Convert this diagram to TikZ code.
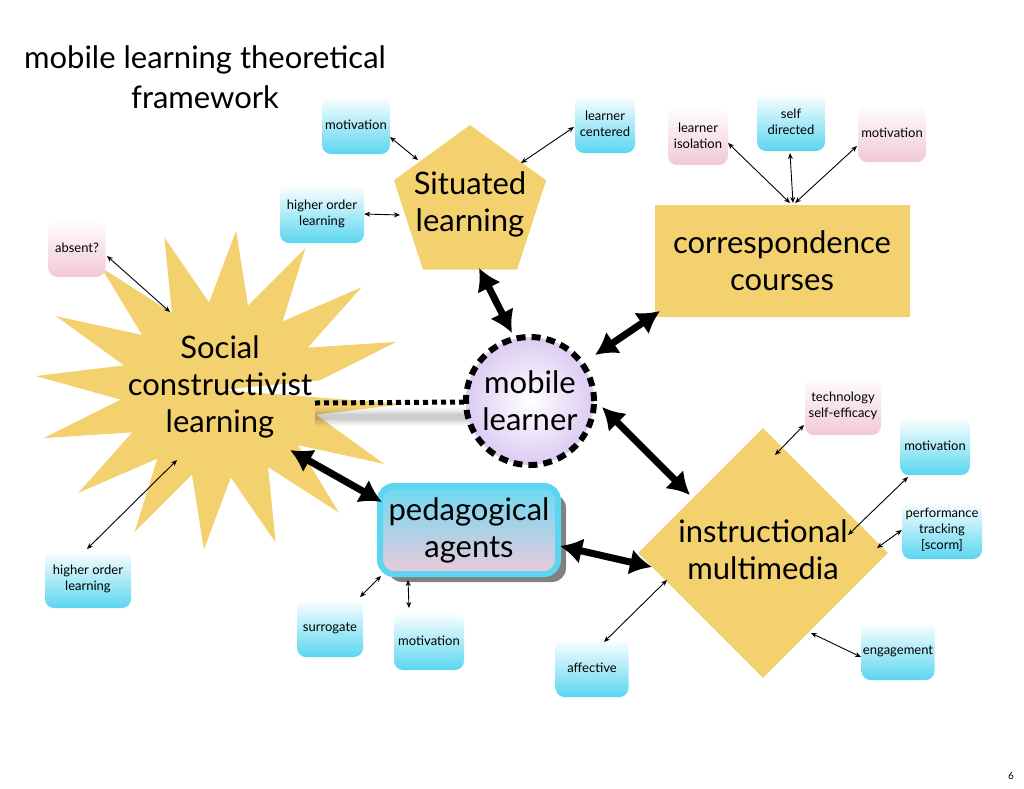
\documentclass[tikz,border=0pt]{standalone}
\usepackage{fontspec}
\setmainfont{Lato}
\usetikzlibrary{arrows.meta,shapes.geometric,shadows}
\definecolor{gold}{HTML}{F2D16E}
\definecolor{cy}{HTML}{5AD6F0}
\definecolor{pk}{HTML}{F2C8D6}
\definecolor{lav}{HTML}{DCCBF2}
\tikzset{
 big/.style={font=\fontsize{31}{37}\selectfont,align=center,text=black},
 sbox/.style={rounded corners=9pt,minimum width=#1,minimum height=58pt,align=center,font=\fontsize{13}{16}\selectfont,inner sep=1pt},
 cbox/.style={sbox=#1,top color=white,bottom color=cy},
 pbox/.style={sbox=#1,top color=white,bottom color=pk},
 thin/.style={{Stealth[length=6pt,width=5pt]}-{Stealth[length=6pt,width=5pt]},line width=0.9pt},
 thick/.style={{Latex[length=22pt,width=26pt]}-{Latex[length=22pt,width=26pt]},line width=7pt},
}
\begin{document}
\begin{tikzpicture}[x=1pt,y=-1pt]
\useasboundingbox (0,0) rectangle (1024,788);
\node[font=\fontsize{31}{40}\selectfont,align=center] (title) at (205,77) {mobile learning theoretical\\framework};
% starburst
\fill[gold] (220,390) \foreach \i in {0,...,31}{ -- ({220+(mod(\i,2)==0?185:100)*cos(\i*11.25+5)},{390+(mod(\i,2)==0?160:88)*sin(\i*11.25+5)}) } -- cycle;
\node[big] (soc) at (220,387) {Social\\constructivist\\learning};
\coordinate (socA) at (290,450);
\coordinate (socB) at (170,312);
\coordinate (socC) at (177,460);
\coordinate (socD) at (315,403);
% pentagon
\node[regular polygon,regular polygon sides=5,minimum size=160pt,fill=gold,inner sep=0pt] (sit) at (470,205) {};
\node[big] at (470,204) {Situated\\learning};
% rectangle
\node[fill=gold,minimum width=255pt,minimum height=112pt,big] (cor) at (782,261) {correspondence\\courses};
% diamond
\node[diamond,fill=gold,minimum width=250pt,minimum height=250pt,inner sep=0pt] (ins) at (763,553) {};
\node[big] at (763,550) {instructional\\multimedia};
% dotted connector with shadow
\foreach \w/\o in {18/0.04,14/0.05,10/0.06,6/0.07}{\draw[line width=\w pt,black,opacity=\o] (socD) ++(0,14) -- (470,417);}
\draw[line width=5pt,dash pattern=on 5pt off 4pt] (socD) -- (468,402);
% circle
\node[circle,minimum size=128pt,inner color=white,outer color=lav,draw=black,line width=6pt,dash pattern=on 9pt off 6pt,big] (mob) at (530,401) {mobile\\learner};
% pedagogical agents
\node[rounded corners=14pt,minimum width=178pt,minimum height=88pt,draw=cy,line width=6pt,top color=cy!90!white,bottom color=pk!80!lav,drop shadow={shadow xshift=8pt,shadow yshift=-8pt,fill=black!70,opacity=0.7},big] (ped) at (469,530) {pedagogical\\agents};
% small boxes
\node[cbox=68pt] (m1) at (356,125) {motivation};
\node[cbox=84pt] (h1) at (322,214) {higher order\\learning};
\node[cbox=60pt] (lc) at (605,124) {learner\\centered};
\node[pbox=60pt] (li) at (698,136) {learner\\isolation};
\node[cbox=68pt] (sd) at (791,122) {self\\directed};
\node[pbox=68pt] (m2) at (892,133) {motivation};
\node[pbox=57pt] (ab) at (77,248) {absent?};
\node[cbox=86pt] (h2) at (88,579) {higher order\\learning};
\node[pbox=76pt] (te) at (843,406) {technology\\self-efficacy};
\node[cbox=70pt] (m3) at (935,446) {motivation};
\node[cbox=80pt] (pt) at (942,530) {performance\\tracking\\{[scorm]}};
\node[cbox=73pt] (en) at (898,651) {engagement};
\node[cbox=73pt] (af) at (592,668) {affective};
\node[cbox=66pt] (su) at (330,628) {surrogate};
\node[cbox=70pt] (m4) at (429,641) {motivation};
\node[font=\fontsize{10}{12}\selectfont] (pg) at (1011,776) {6};
% thin arrows
\draw[thin] (390,137) -- (418,160);
\draw[thin] (h1.east) -- (400,215);
\draw[thin] (574,127) -- (521,163);
\draw[thin] (728,143) -- (790,203);
\draw[thin] (790,153) -- (793,203);
\draw[thin] (857,146) -- (795,203);
\draw[thin] (107,256) -- (socB);
\draw[thin] (87,549) -- (socC);
\draw[thin] (804,425) -- (775,455);
\draw[thin] (908,477) -- (848,535);
\draw[thin] (pt.west) -- (877,548);
\draw[thin] (861,657) -- (811,633);
\draw[thin] (604,642) -- (667,580);
\draw[thin] (360,597) -- (381,576);
\draw[thin] (408,580) -- (409,608);
% thick arrows
\draw[thick] (479,268) -- (512,333);
\draw[thick] (660,311) -- (595,355);
\draw[thick] (602,407) -- (690,495);
\draw[thick] (socA) -- (382,502);
\draw[thick] (560,546) -- (652,567);
\end{tikzpicture}
\end{document}
